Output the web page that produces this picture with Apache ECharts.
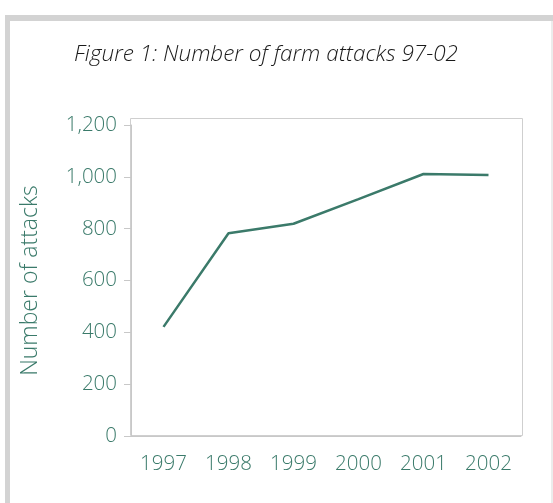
<!DOCTYPE html>
<html>
<head>
<meta charset="utf-8">
<script src="https://cdn.jsdelivr.net/npm/echarts@6/dist/echarts.min.js"></script>
<style>
html, body { margin: 0; padding: 0; background: #fff; }
#chart { width: 553px; height: 503px; }
</style>
</head>
<body>
<div id="chart"></div>
<script>
// data
var years = ['1997', '1998', '1999', '2000', '2001', '2002'];
var attacks = [421, 782, 819, 914, 1011, 1007];
var yTicks = [0, 200, 400, 600, 800, 1000, 1200];

var teal = '#3a7a6a';
var font = 'Open Sans';

var chart = echarts.init(document.getElementById('chart'));
var option = {
	backgroundColor: '#fff',
	animation: false,
	title: {
		text: 'Figure 1: Number of farm attacks 97-02',
		left: 69,
		top: 38,
		textStyle: {
			color: '#1a1a1a',
			fontFamily: font,
			fontStyle: 'italic',
			fontWeight: 300,
			fontSize: 22.5
		}
	},
	// page frame and plot box
	graphic: [
		{ type: 'rect', shape: { x: 5, y: 15, width: 548, height: 6 }, style: { fill: '#d3d3d3' } },
		{ type: 'rect', shape: { x: 5, y: 15, width: 5, height: 488 }, style: { fill: '#d3d3d3' } },
		{ type: 'rect', shape: { x: 551, y: 21, width: 2, height: 482 }, style: { fill: '#ececec' } },
		{ type: 'rect', shape: { x: 130.5, y: 118.5, width: 392, height: 317 }, style: { fill: 'none', stroke: '#cfcfcf', lineWidth: 1 }, z: 0 }
	],
	grid: {
		left: 131,
		right: 32,
		top: 125,
		bottom: 67,
		containLabel: false
	},
	xAxis: {
		type: 'category',
		data: years,
		boundaryGap: true,
		axisLine: { lineStyle: { color: '#c8c8c8' } },
		axisTick: { length: 9, lineStyle: { color: '#c8c8c8' } },
		axisLabel: { color: teal, fontFamily: font, fontWeight: 300, fontSize: 20.5, margin: 18 },
		splitLine: { show: false }
	},
	yAxis: {
		type: 'value',
		min: yTicks[0],
		max: yTicks[yTicks.length - 1],
		interval: 200,
		name: 'Number of attacks',
		nameLocation: 'middle',
		nameGap: 89,
		nameTextStyle: { color: teal, fontFamily: font, fontWeight: 300, fontSize: 23 },
		axisLine: { show: true, lineStyle: { color: '#c8c8c8' } },
		axisTick: { show: true, length: 7, lineStyle: { color: '#c8c8c8' } },
		axisLabel: {
			color: teal,
			fontFamily: font,
			fontWeight: 300,
			fontSize: 20.5,
			margin: 14,
			formatter: function (v) { return v.toLocaleString('en-US'); }
		},
		splitLine: { show: false }
	},
	series: [{
		type: 'line',
		data: attacks,
		symbol: 'none',
		lineStyle: { color: '#3b7a6a', width: 2.5 }
	}]
};
chart.setOption(option);
</script>
</body>
</html>
